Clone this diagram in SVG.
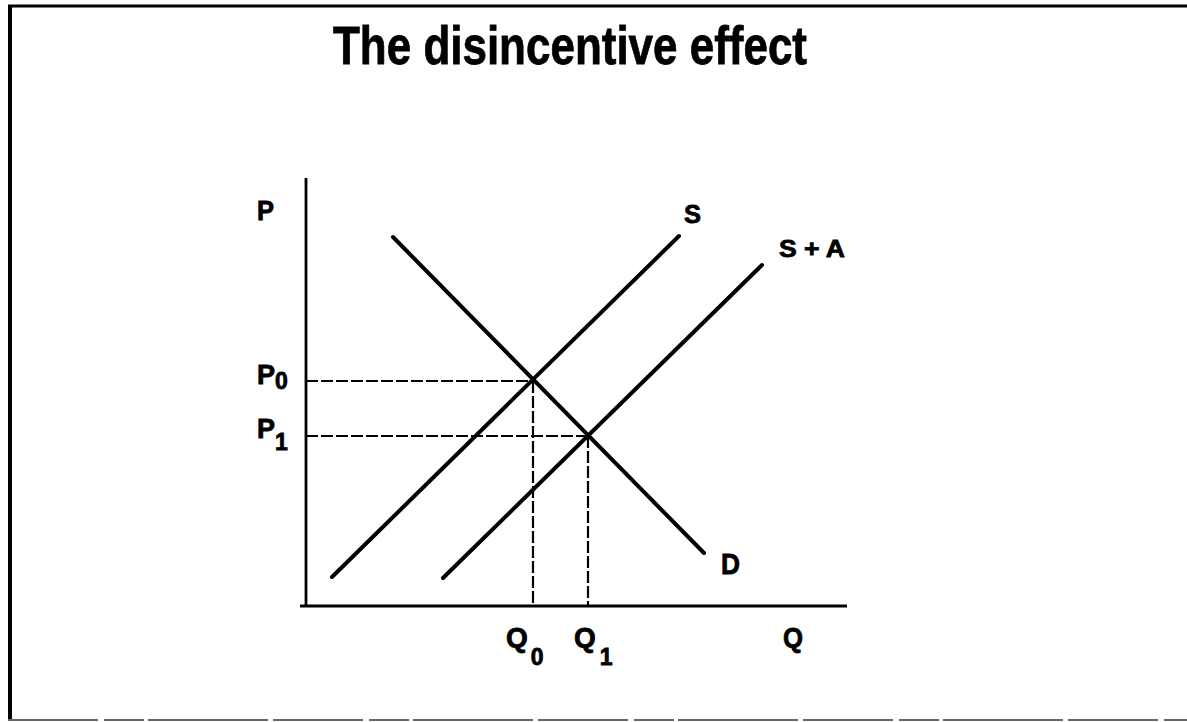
<svg xmlns="http://www.w3.org/2000/svg" width="1187" height="722" viewBox="0 0 1187 722">
<style>
.t{font-family:"Liberation Sans",Arial,sans-serif;font-weight:bold;fill:#000;stroke:#000;stroke-width:0.8}
.curve{stroke:#000;stroke-width:4;stroke-linecap:round;fill:none}
.axis{stroke:#000;stroke-width:2.8;fill:none}
.dash{stroke:#000;stroke-width:2.2;stroke-dasharray:12,3;fill:none}
</style>
<rect width="1187" height="722" fill="#fff"/>
<g id="frame">
<line x1="8" y1="6" x2="1187" y2="6" stroke="#000" stroke-width="3"/>
<line x1="10" y1="5" x2="10" y2="721" stroke="#000" stroke-width="4"/>
<line x1="8" y1="720" x2="1187" y2="720" stroke="#666" stroke-width="2" stroke-dasharray="90,6,40,4,120,5"/>
</g>
<g id="title"><text class="t" x="333" y="64" font-size="54" textLength="474" lengthAdjust="spacingAndGlyphs">The disincentive effect</text></g>
<g id="axes">
<line class="axis" x1="306" y1="178" x2="306" y2="607"/>
<line class="axis" x1="300" y1="606" x2="847" y2="606"/>
<text class="t" x="257" y="220" font-size="27" textLength="17" lengthAdjust="spacingAndGlyphs">P</text>
<text class="t" x="783" y="647" font-size="28" textLength="20" lengthAdjust="spacingAndGlyphs">Q</text>
</g>
<g id="connectors">
<line class="dash" x1="306" y1="381" x2="533" y2="381"/>
<line class="dash" x1="306" y1="436" x2="588" y2="436"/>
<line class="dash" x1="533" y1="381" x2="533" y2="606"/>
<line class="dash" x1="588" y1="436" x2="588" y2="606"/>
</g>
<g id="D">
<line class="curve" x1="393" y1="237" x2="704" y2="553"/>
<text class="t" x="721" y="574" font-size="29" textLength="19" lengthAdjust="spacingAndGlyphs">D</text>
</g>
<g id="S">
<line class="curve" x1="332" y1="577" x2="679" y2="236"/>
<text class="t" x="684" y="223" font-size="26" textLength="17" lengthAdjust="spacingAndGlyphs">S</text>
</g>
<g id="SA">
<line class="curve" x1="443" y1="578" x2="762" y2="265"/>
<text class="t" x="779" y="257" font-size="23" textLength="66" lengthAdjust="spacingAndGlyphs">S + A</text>
</g>
<g id="P0"><text class="t" x="257" y="384" font-size="27">P<tspan font-size="23" dy="5">0</tspan></text></g>
<g id="P1"><text class="t" x="257" y="438" font-size="27">P<tspan font-size="23" dy="12">1</tspan></text></g>
<g id="Q0"><text class="t" x="506" y="647" font-size="28">Q<tspan font-size="23" dx="3" dy="18">0</tspan></text></g>
<g id="Q1"><text class="t" x="574" y="647" font-size="28">Q<tspan font-size="23" dx="4" dy="18">1</tspan></text></g>
</svg>
